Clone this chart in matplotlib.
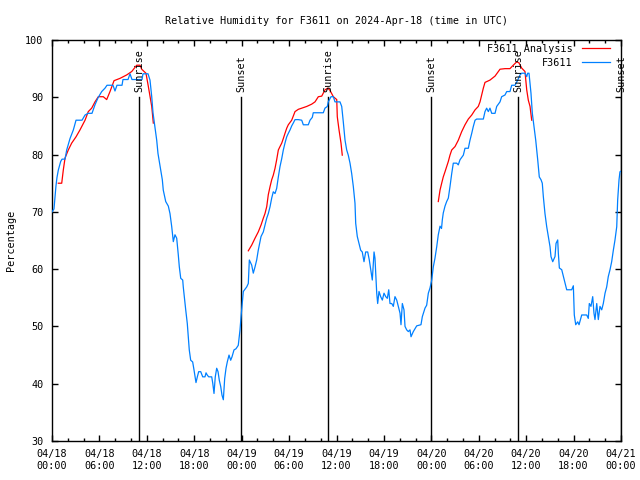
import matplotlib
matplotlib.use("Agg")
import matplotlib.pyplot as plt
import numpy as np

# hours since 2024-04-18 00:00 UTC
obs_hours = [0.0, 0.25, 0.5, 0.63, 0.8, 1.1, 1.27, 1.65, 1.86, 2.28, 2.7, 3.04, 3.8, 4.18, 4.56, 5.06,
             5.44, 5.82, 6.29, 6.71, 6.96, 7.72, 7.97, 8.22, 8.86, 8.98, 9.62, 9.87, 10.12, 11.39, 11.51,
             12.15, 12.4, 12.62, 12.78, 13.03, 13.25, 13.41, 13.75, 13.96, 14.08, 14.39, 14.72, 14.93,
             15.15, 15.35, 15.56, 15.78, 15.98, 16.11, 16.29, 16.54, 16.61, 16.74, 16.92, 17.12, 17.25,
             17.37, 17.55, 17.8, 17.97, 18.22, 18.39, 18.56, 18.82, 19.07, 19.36, 19.49, 19.65, 19.83,
             20.21, 20.34, 20.5, 20.66, 20.84, 21.01, 21.17, 21.35, 21.51, 21.68, 21.85, 22.02, 22.18,
             22.4, 22.61, 22.78, 23.03, 23.28, 23.57, 23.79, 23.92, 24.21, 24.64, 24.84, 24.97, 25.27,
             25.47, 25.69, 25.9, 26.1, 26.45, 26.74, 26.95, 27.17, 27.37, 27.59, 27.8, 28.0, 28.22,
             28.43, 28.64, 28.85, 29.07, 29.27, 29.48, 29.7, 29.9, 30.12, 30.33, 30.53, 30.75, 31.17,
             31.6, 31.8, 32.43, 32.65, 32.94, 33.06, 34.33, 34.54, 34.84, 34.96, 35.3, 35.6, 35.81,
             36.44, 36.66, 36.86, 37.08, 37.29, 37.49, 37.71, 37.92, 38.13, 38.34, 38.43, 38.63, 38.85,
             39.06, 39.26, 39.48, 39.69, 39.95, 40.15, 40.33, 40.53, 40.75, 40.87, 41.09, 41.21, 41.38,
             41.59, 41.8, 42.01, 42.23, 42.43, 42.61, 42.77, 42.99, 43.19, 43.4, 43.62, 43.82, 44.04,
             44.16, 44.33, 44.54, 44.67, 44.88, 45.09, 45.3, 45.43, 45.72, 46.15, 46.69, 46.86, 47.2,
             47.41, 47.62, 47.83, 48.05, 48.25, 48.46, 48.68, 48.88, 49.1, 49.29, 49.39, 49.51, 49.73,
             49.94, 50.15, 50.36, 50.58, 50.78, 51.21, 51.41, 51.63, 52.05, 52.26, 52.68, 52.89, 53.11,
             53.31, 53.53, 53.74, 54.58, 54.79, 55.0, 55.21, 55.42, 55.64, 56.06, 56.27, 56.69, 56.9,
             57.32, 57.54, 57.95, 58.17, 58.59, 58.93, 59.22, 59.43, 59.85, 60.07, 60.19, 60.36, 60.61,
             60.78, 60.99, 61.21, 61.46, 61.66, 61.88, 62.04, 62.17, 62.38, 62.6, 62.8, 63.02, 63.14,
             63.36, 63.65, 63.78, 63.99, 64.07, 64.2, 64.5, 64.83, 65.13, 65.76, 65.97, 66.09, 66.27,
             66.52, 66.69, 67.03, 67.66, 67.86, 67.99, 68.2, 68.42, 68.58, 68.71, 68.93, 69.13, 69.34,
             69.56, 69.76, 69.98, 70.19, 70.39, 70.61, 70.82, 71.03, 71.24, 71.46, 71.58, 71.75, 71.87,
             72.0]
obs_rh = [70.0, 70.5, 74.5, 76.0, 77.3, 78.8, 79.2, 79.2, 80.8, 82.8, 84.3, 86.0, 86.0, 86.9, 87.2, 87.2,
          88.7, 89.9, 91.0, 91.6, 92.1, 92.1, 91.1, 92.1, 92.1, 93.1, 93.1, 94.1, 93.1, 93.1, 94.1,
          94.1, 93.0, 90.1, 87.3, 84.8, 82.5, 80.2, 77.3, 75.6, 73.8, 71.8, 71.0, 69.7,
          67.4, 64.8, 66.0, 65.4, 62.5, 60.4, 58.4, 58.1, 56.9, 55.2, 52.9, 50.5, 48.2,
          45.9, 44.1, 43.8, 42.4, 40.2, 41.2, 42.1, 42.1, 41.2, 41.2, 41.9, 41.5, 41.2,
          41.2, 40.1, 38.3, 41.2, 42.7, 42.1, 40.6, 39.5, 38.0, 37.2, 40.9, 42.7, 43.8,
          45.0, 44.1, 44.7, 45.9, 46.1, 46.7, 49.4, 51.7, 56.1, 56.9, 57.5, 61.6, 60.7,
          59.3, 60.4, 61.6, 63.3, 65.7, 66.5, 67.7, 68.9, 69.7, 70.9, 72.4, 73.5, 73.2,
          74.1, 76.1, 77.9, 79.3, 80.8, 82.0, 83.1, 83.7, 84.3, 85.0, 85.5, 86.1, 86.1,
          86.0, 85.2, 85.2, 86.0, 86.5, 87.3, 87.3, 88.1, 88.4, 89.2, 90.1, 90.1, 89.2,
          89.2, 88.4, 85.7, 82.5, 80.8, 79.9, 78.5, 76.7, 74.4, 71.5, 68.0, 65.7, 64.5,
          63.3, 63.0, 61.3, 63.0, 63.0, 61.6, 59.9, 58.1, 63.0, 61.9, 55.8, 54.0, 56.1,
          55.2, 54.6, 55.8, 55.2, 54.9, 56.4, 54.0, 54.0, 53.5, 55.2, 54.6, 53.5, 52.3,
          50.3, 54.0, 52.9, 50.0, 49.4, 49.1, 49.4, 48.2, 49.1, 50.1, 50.3, 51.7, 53.2,
          53.7, 55.8, 56.7, 58.1, 60.4, 61.9, 63.9, 66.0, 67.5, 67.1, 68.6, 69.8, 71.0,
          71.8, 72.4, 74.4, 76.7, 78.5, 78.5, 78.2, 79.1, 79.9, 81.1, 81.1, 82.5, 83.7,
          84.9, 86.0, 86.2, 86.2, 87.5, 88.1, 87.5, 88.1, 87.2, 87.2, 88.4, 89.2, 90.1,
          90.4, 91.0, 91.0, 92.1, 92.1, 93.0, 93.9, 94.2, 94.2, 93.6, 94.2, 94.2, 90.7,
          87.2, 84.9, 82.5, 79.1, 76.1, 75.6, 75.0, 72.7, 69.7, 67.4, 65.7, 63.9, 62.2,
          61.3, 62.2, 64.5, 65.1, 62.8, 60.2, 59.9, 58.1, 56.4, 56.4, 57.1, 52.0, 50.3,
          50.8, 50.3, 52.0, 52.0, 51.4, 54.0, 53.5, 55.2, 52.3, 51.2, 54.0, 51.2, 53.5,
          52.9, 54.0, 55.8, 56.9, 58.7, 59.9, 61.3, 63.3, 65.1, 67.4, 72.1, 75.6, 77.0,
          77.1]

# analysis series: three separate segments (None = gap)
ana_hours = [0.8, 1.23, 1.43, 1.65, 2.06, 2.49, 3.04, 3.54, 4.18, 4.59, 5.02, 5.44, 5.86, 6.49, 6.92,
             7.34, 7.85, 8.6, 9.45, 10.09, 10.72, 11.14, 11.35, 11.89, 12.19, 12.62, 12.82, None,
             24.84, 25.27, 25.69, 26.1, 26.45, 26.74, 26.95, 27.17, 27.37, 27.59, 27.8, 28.0, 28.22,
             28.43, 28.64, 28.85, 29.07, 29.27, 29.48, 29.7, 29.9, 30.33, 30.75, 31.17, 31.6, 32.23,
             32.86, 33.28, 33.7, 34.13, 34.54, 34.89, 35.18, 35.6, 36.03, 36.1, 36.32, 36.57, 36.73, None,
             48.88, 49.1, 49.31, 49.51, 49.73, 49.94, 50.15, 50.36, 50.58, 51.0, 51.41, 51.84, 52.26,
             52.68, 53.11, 53.53, 53.94, 54.16, 54.37, 54.58, 54.79, 55.42, 56.06, 56.48, 56.69, 57.32,
             57.95, 58.37, 58.81, 59.09, 59.43, 59.85, 60.07, 60.27, 60.49, 60.7]
ana_rh = [75.0, 75.0, 77.3, 79.4, 80.8, 82.0, 83.1, 84.3, 86.0, 87.5, 88.1, 89.2, 90.1, 90.1, 89.6,
          91.0, 92.9, 93.3, 93.9, 94.5, 95.6, 95.6, 94.9, 94.2, 91.9, 88.4, 85.5, None,
          63.2, 64.2, 65.4, 66.5, 67.7, 68.9, 69.7, 70.9, 73.0, 74.4, 75.6, 76.4, 77.6,
          79.1, 80.8, 81.4, 82.0, 82.8, 83.7, 84.6, 85.2, 86.0, 87.5, 87.9, 88.1, 88.4,
          88.8, 89.2, 90.1, 90.2, 91.3, 91.6, 91.2, 90.1, 89.6, 86.6, 84.3, 82.0, 79.9, None,
          71.8, 73.8, 75.0, 76.1, 77.0, 77.9, 78.8, 79.9, 80.8, 81.4, 82.5, 84.0, 85.2,
          86.2, 86.9, 87.8, 88.4, 89.2, 90.4, 91.6, 92.6, 93.0, 93.7, 94.5, 94.9, 95.0,
          95.0, 95.6, 96.2, 96.0, 95.1, 94.5, 91.3, 89.5, 88.4, 86.0]

sun_event_hours = [11.0, 23.92, 34.92, 47.96, 58.97, 72.0]
sun_event_labels = ["Sunrise", "Sunset", "Sunrise", "Sunset", "Sunrise", "Sunset"]

tick_hours = [0, 6, 12, 18, 24, 30, 36, 42, 48, 54, 60, 66, 72]
tick_labels = ["04/18\n00:00", "04/18\n06:00", "04/18\n12:00", "04/18\n18:00",
               "04/19\n00:00", "04/19\n06:00", "04/19\n12:00", "04/19\n18:00",
               "04/20\n00:00", "04/20\n06:00", "04/20\n12:00", "04/20\n18:00",
               "04/21\n00:00"]

FONT = "DejaVu Sans Mono"
FS = 7.3
plt.rcParams['font.family'] = FONT
plt.rcParams['font.size'] = FS

fig = plt.figure(figsize=(6.4, 4.8), dpi=100)
ax = fig.add_axes([52/640, 39/480, 569/640, 401/480])

ana_x = [np.nan if h is None else h for h in ana_hours]
ana_y = [np.nan if v is None else v for v in ana_rh]

ax.plot(ana_x, ana_y, color="#ff0000", lw=0.9, label="F3611 Analysis", zorder=3)
ax.plot(obs_hours, obs_rh, color="#0080ff", lw=0.9, label="F3611", zorder=4)

for h, lab in zip(sun_event_hours, sun_event_labels):
    ax.plot([h, h], [30, 90], color="black", lw=1.0, zorder=2)
    ax.text(h, 91, lab, rotation=90, ha="center", va="bottom", fontsize=FS,
            clip_on=False, zorder=5)

ax.set_xlim(0, 72)
ax.set_ylim(30, 100)
ax.set_xticks(tick_hours)
ax.set_xticklabels(tick_labels, linespacing=1.15)
ax.set_xticks(np.arange(0, 73, 2), minor=True)
ax.set_yticks(np.arange(30, 101, 10))
ax.tick_params(axis="both", which="major", direction="in", length=4, width=1,
               top=True, right=True, labelsize=FS)
ax.tick_params(axis="x", which="major", pad=6)
ax.tick_params(axis="y", which="major", pad=6)
ax.tick_params(axis="x", which="minor", direction="in", length=2.5, width=1,
               top=True, bottom=True)
for s in ax.spines.values():
    s.set_linewidth(1.0)

ax.set_ylabel("Percentage", fontsize=FS, labelpad=7)
ax.set_title("Relative Humidity for F3611 on 2024-Apr-18 (time in UTC)", fontsize=FS, pad=11.5)

ax.legend(loc="upper right", bbox_to_anchor=(1 - 11/569, 1 - 4/401), frameon=False,
          markerfirst=False, fontsize=FS, handlelength=2.8, handletextpad=0.9,
          borderaxespad=0.0, borderpad=0.0, labelspacing=0.35)

fig.savefig("out.png", dpi=100)
